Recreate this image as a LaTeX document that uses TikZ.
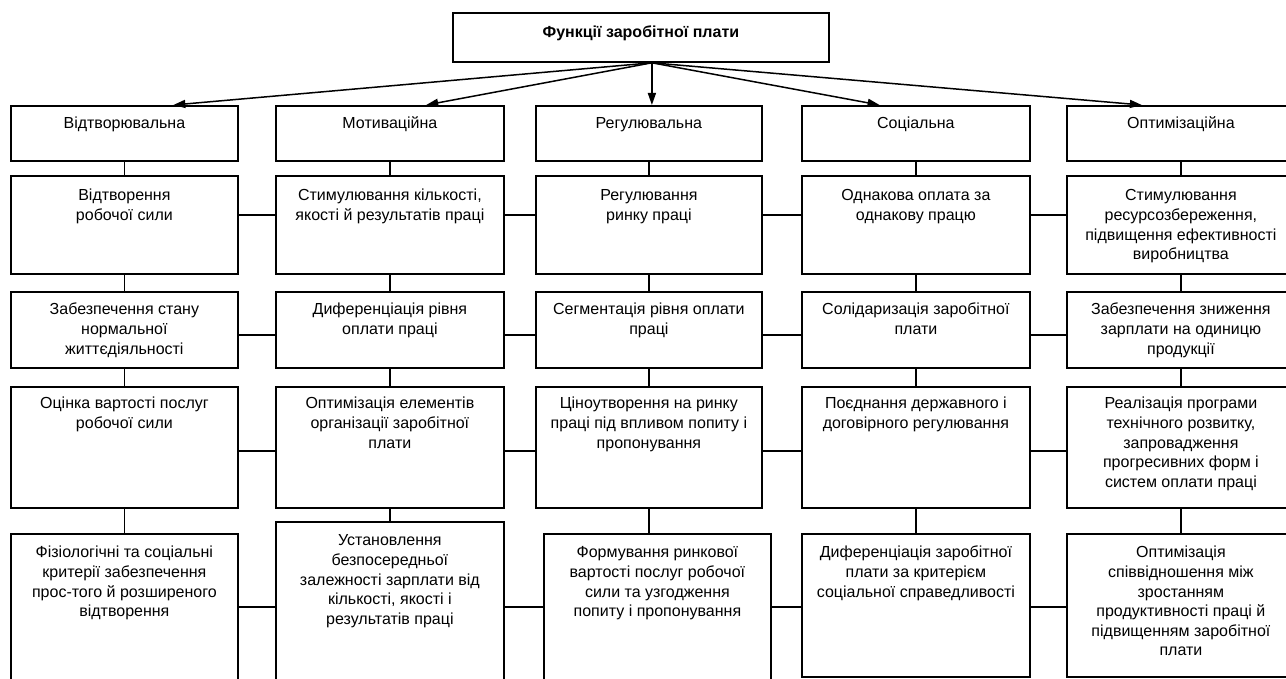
\documentclass[tikz,border=0pt]{standalone}
\usepackage{fontspec}
\setmainfont{Liberation Sans}
\usetikzlibrary{arrows.meta,calc}
\tikzset{
  box/.style={draw, line width=1.8pt, inner sep=0pt, anchor=north west},
  link/.style={line width=1.5pt},
  arr/.style={line width=1.5pt, -{Triangle[length=12pt,width=8pt]}},
}
% name, x1, y1, x2, y2, strut, text
\newcommand\bx[7]{%
  \node[box] (#1) at (#2,#3) {\parbox[t][\dimexpr #5pt-#3pt\relax][t]{\dimexpr #4pt-#2pt\relax}{\centering\rule{0pt}{#6pt}#7\par}};}
\begin{document}
\begin{tikzpicture}[x=1pt,y=-1pt,font=\fontsize{16pt}{19.6pt}\selectfont]
\useasboundingbox (0,0) rectangle (1286,679);
\clip (0,0) rectangle (1286,679);
\fill[white] (0,0) rectangle (1286,679);

\bx{top}{452}{12}{828}{61}{25}{\textbf{Функції заробітної плати}}

% level 1
\bx{c1l1}{10}{105}{237}{160}{23}{Відтворювальна}
\bx{c2l1}{275}{105}{503}{160}{23}{Мотиваційна}
\bx{c3l1}{535}{105}{761}{160}{23}{Регулювальна}
\bx{c4l1}{801}{105}{1029}{160}{23}{Соціальна}
\bx{c5l1}{1066}{105}{1294}{160}{23}{Оптимізаційна}

% level 2
\bx{c1l2}{10}{175}{237}{273}{25}{Відтворення\\робочої сили}
\bx{c2l2}{275}{175}{503}{273}{25}{Стимулювання кількості,\\якості й результатів праці}
\bx{c3l2}{535}{175}{761}{273}{25}{Регулювання\\ринку праці}
\bx{c4l2}{801}{175}{1029}{273}{25}{Однакова оплата за\\однакову працю}
\bx{c5l2}{1066}{175}{1294}{273}{25}{Стимулювання\\ресурсозбереження,\\підвищення ефективності\\виробництва}

% level 3
\bx{c1l3}{10}{291}{237}{367}{23}{Забезпечення стану\\нормальної\\життєдіяльності}
\bx{c2l3}{275}{291}{503}{367}{23}{Диференціація рівня\\оплати праці}
\bx{c3l3}{535}{291}{761}{367}{23}{Сегментація рівня оплати\\праці}
\bx{c4l3}{801}{291}{1029}{367}{23}{Солідаризація заробітної\\плати}
\bx{c5l3}{1066}{291}{1294}{367}{23}{Забезпечення зниження\\зарплати на одиницю\\продукції}

% level 4
\bx{c1l4}{10}{386}{237}{507}{22}{Оцінка вартості послуг\\робочої сили}
\bx{c2l4}{275}{386}{503}{507}{22}{Оптимізація елементів\\організації заробітної\\плати}
\bx{c3l4}{535}{386}{761}{507}{22}{Ціноутворення на ринку\\праці під впливом попиту і\\пропонування}
\bx{c4l4}{801}{386}{1029}{507}{22}{Поєднання державного і\\договірного регулювання}
\bx{c5l4}{1066}{386}{1294}{507}{22}{Реалізація програми\\технічного розвитку,\\запровадження\\прогресивних форм і\\систем оплати праці}

% level 5
\bx{c1l5}{10}{533}{237}{700}{24}{Фізіологічні та соціальні\\критерії забезпечення\\прос-того й розширеного\\відтворення}
\bx{c2l5}{275}{521}{503}{700}{24}{Установлення\\безпосередньої\\залежності зарплати від\\кількості, якості і\\результатів праці}
\bx{c3l5}{543}{533}{770}{700}{24}{Формування ринкової\\вартості послуг робочої\\сили та узгодження\\попиту і пропонування}
\bx{c4l5}{801}{533}{1029}{676}{24}{Диференціація заробітної\\плати за критерієм\\соціальної справедливості}
\bx{c5l5}{1066}{533}{1294}{676}{24}{Оптимізація\\співвідношення між\\зростанням\\продуктивності праці й\\підвищенням заробітної\\плати}

% arrows from the title
\coordinate (hub) at ([xshift=11pt]top.south);
\draw[arr] (hub) -- ($(c1l1.north west)!0.714!(c1l1.north east)$);
\draw[arr] (hub) -- ($(c2l1.north west)!0.658!(c2l1.north east)$);
\draw[arr] (hub) -- (hub |- c3l1.north);
\draw[arr] (hub) -- ($(c4l1.north west)!0.342!(c4l1.north east)$);
\draw[arr] (hub) -- ($(c5l1.north west)!0.33!(c5l1.north east)$);

% vertical links
\foreach \c in {1,...,5}{
  \draw[link] (c\c l1.south) -- (c\c l1.south |- c\c l2.north);
  \draw[link] (c\c l2.south) -- (c\c l2.south |- c\c l3.north);
  \draw[link] (c\c l3.south) -- (c\c l3.south |- c\c l4.north);
  \draw[link] (c\c l4.south) -- (c\c l4.south |- c\c l5.north);
}

% horizontal links
\coordinate (h2) at (0,215);
\coordinate (h3) at (0,335);
\coordinate (h4) at (0,451);
\coordinate (h5) at (0,607);
\foreach \l in {2,3,4,5}{
  \foreach \a/\b in {1/2,2/3,3/4,4/5}{
    \draw[link] (c\a l\l.east |- h\l) -- (c\b l\l.west |- h\l);
  }
}
\end{tikzpicture}
\end{document}
